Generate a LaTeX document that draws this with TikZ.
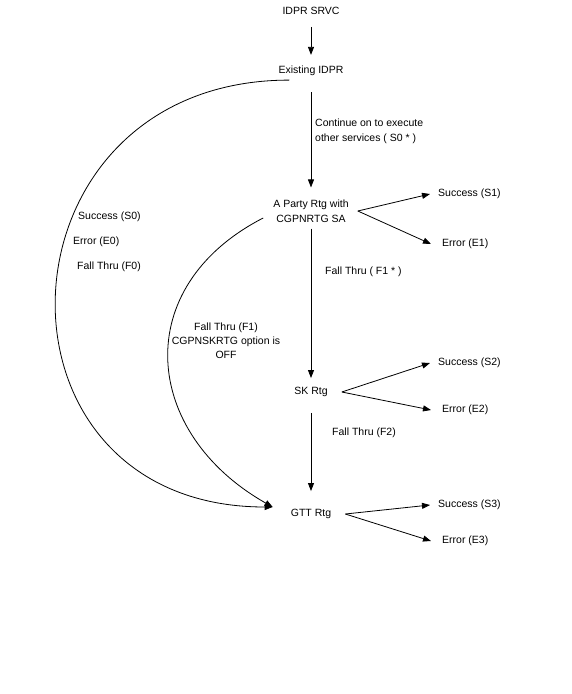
\documentclass[tikz,border=0pt]{standalone}
\usepackage{fontspec}
\setmainfont{Liberation Sans}
\usetikzlibrary{arrows.meta, positioning}

\begin{document}
\begin{tikzpicture}[x=1pt, y=-1pt,
  txt/.style={inner sep=0pt, font=\fontsize{10.5}{15}\selectfont, align=center},
  lbl/.style={inner sep=0pt, font=\fontsize{10.5}{15}\selectfont, anchor=west, align=left},
  arrow/.style={-{Triangle[length=8pt, width=6pt]}, line width=0.8pt},
]
  \useasboundingbox (0,0) rectangle (571,694);
  \fill[white] (0,0) rectangle (571,694);

  % routing steps
  \node[txt] (srvc)  at (311,11)  {IDPR SRVC};
  \node[txt] (exist) at (311,71)  {Existing IDPR};
  \node[txt] (party) at (311,211) {A Party Rtg with\\CGPNRTG SA};
  \node[txt] (skrtg) at (311,392) {SK Rtg};
  \node[txt] (gtt)   at (311,514) {GTT Rtg};

  % outcomes
  \node[lbl] (s1) at (438,194) {Success (S1)};
  \node[lbl] (e1) at (442,244) {Error (E1)};
  \node[lbl] (s2) at (438,363) {Success (S2)};
  \node[lbl] (e2) at (442,410) {Error (E2)};
  \node[lbl] (s3) at (438,505) {Success (S3)};
  \node[lbl] (e3) at (442,541) {Error (E3)};

  % labels
  \node[lbl] (s0)   at (78,217)  {Success (S0)};
  \node[lbl] (e0)   at (73,242)  {Error (E0)};
  \node[lbl] (f0)   at (77,267)  {Fall Thru (F0)};
  \node[lbl] (cont) at (315,131) {Continue on to execute\\other services ( S0 * )};
  \node[lbl] (f1s)  at (325,272) {Fall Thru ( F1 * )};
  \node[txt, font=\fontsize{10.5}{14}\selectfont] (f1off) at (226,341)
    {Fall Thru (F1)\\CGPNSKRTG option is\\OFF};
  \node[lbl] (f2)   at (332,433) {Fall Thru (F2)};

  \draw[arrow] ([yshift=-12pt]srvc.south) -- ([yshift=11pt]exist.north);
  \draw[arrow] ([yshift=-16pt]exist.south) -- ([yshift=12pt]party.north);
  \draw[arrow] ([yshift=-6pt]party.south) -- ([yshift=9pt]skrtg.north);
  \draw[arrow] ([yshift=-16pt]skrtg.south) -- ([yshift=18pt]gtt.north);

  \draw[arrow] ([xshift=9pt]party.east) -- ([xshift=-8pt]s1.west);
  \draw[arrow] ([xshift=9pt]party.east) -- ([xshift=-11pt]e1.west);
  \draw[arrow] ([xshift=14pt]skrtg.east) -- ([xshift=-8pt]s2.west);
  \draw[arrow] ([xshift=14pt]skrtg.east) -- ([xshift=-11pt]e2.west);
  \draw[arrow] ([xshift=14pt]gtt.east) -- ([xshift=-8pt]s3.west);
  \draw[arrow] ([xshift=14pt]gtt.east) -- ([xshift=-11pt]e3.west);

  % fall-through arcs
  \draw[arrow] ([xshift=11pt,yshift=-4pt]exist.south west)
    .. controls (-11,80) and (-26,507) .. ([xshift=-18pt,yshift=7pt]gtt.west);
  \draw[arrow] ([xshift=-10pt,yshift=-7pt]party.west)
    .. controls (129,287) and (142,433) .. ([xshift=-18pt,yshift=7pt]gtt.west);
\end{tikzpicture}
\end{document}
